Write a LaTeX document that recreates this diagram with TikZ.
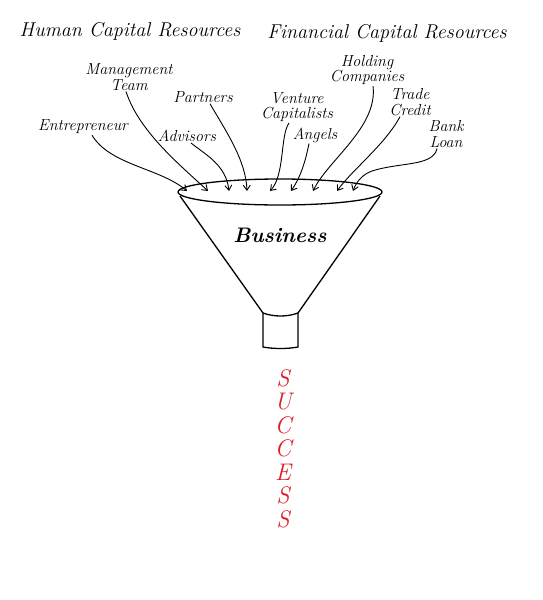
\documentclass[tikz,border=0pt]{standalone}
\usetikzlibrary{arrows.meta}
\definecolor{succred}{RGB}{222,30,40}
\begin{document}
\begin{tikzpicture}[x=1pt,y=-1pt,
  hdr/.style={font=\fontsize{20}{22}\selectfont\itshape, inner sep=0pt},
  lbl/.style={font=\fontsize{16}{15.5}\selectfont\itshape, align=center, inner sep=0pt},
  feed/.style={line width=0.9pt, -{Straight Barb[length=5pt,width=7pt]}},
  funnel/.style={line width=1.3pt},
  letter/.style={font=\fontsize{24}{24}\selectfont\itshape, text=succred, inner sep=0pt}]
\useasboundingbox[fill=white] (0,0) rectangle (543,600);

% headers
\node[hdr] (hcr) at (130,31) {Human Capital Resources};
\node[hdr] (fcr) at (387,33) {Financial Capital Resources};

% labels
\node[lbl] (ent) at (83,127) {Entrepreneur};
\node[lbl] (mgt) at (129,77) {Management\\Team};
\node[lbl] (adv) at (187,136) {Advisors};
\node[lbl] (par) at (203,97) {Partners};
\node[lbl] (vc)  at (297,107) {Venture\\Capitalists};
\node[lbl] (ang) at (315,135) {Angels};
\node[lbl] (hol) at (367,70) {Holding\\Companies};
\node[lbl] (tra) at (410,102) {Trade\\Credit};
\node[lbl] (ban) at (446,134) {Bank\\Loan};

% funnel
\draw[funnel] (280,192) ellipse [x radius=102, y radius=13];
\draw[funnel] (180,196) -- (263,313);
\draw[funnel] (380,196) -- (298,313);
\draw[funnel] (263,313) .. controls (274,317) and (287,317) .. (298,313);
\draw[funnel] (263,313) -- (263,347) .. controls (274,349) and (287,349) .. (298,347) -- (298,313);
\node[font=\fontsize{21}{22}\selectfont\bfseries\itshape, inner sep=0pt] (bus) at (280,235) {Business};

% arrow ends
\coordinate (t1) at (187,191);
\coordinate (t2) at (208,191);
\coordinate (t3) at (229,191);
\coordinate (t4) at (247,191);
\coordinate (t5) at (270,191);
\coordinate (t6) at (291,191);
\coordinate (t7) at (313,191);
\coordinate (t8) at (337,191);
\coordinate (t9) at (353,191);

\draw[feed] ([xshift=9pt,yshift=-1pt]ent.south) .. controls +(18,30) and (160,168) .. (t1);
\draw[feed] ([xshift=-3pt,yshift=-1pt]mgt.south) .. controls +(13,40) and (180,165) .. (t2);
\draw[feed] ([xshift=4pt,yshift=-1pt]adv.south) .. controls +(15,12) and (226,165) .. (t3);
\draw[feed] ([xshift=7pt,yshift=-1pt]par.south) .. controls +(15,26) and (246,160) .. (t4);
\draw[feed] ([xshift=-8pt,yshift=-1pt]vc.south) .. controls +(-9,13) and (285,175) .. (t5);
\draw[feed] ([xshift=-6pt,yshift=-1pt]ang.south) .. controls +(-4,20) and (300,178) .. (t6);
\draw[feed] ([xshift=6pt,yshift=-1pt]hol.south) .. controls +(5,41) and (328,160) .. (t7);
\draw[feed] ([xshift=-10pt,yshift=-1pt]tra.south) .. controls +(-15,28) and (352,170) .. (t8);
\draw[feed] ([xshift=-9pt,yshift=-1pt]ban.south) .. controls +(-4,18) and (400,162) .. (372,171) .. controls (361,175) and (356,183) .. (t9);

% SUCCESS
\node[letter] (s1) at (283,378) {S};
\node[letter] (s2) at (283,402) {U};
\node[letter] (s3) at (283,425) {C};
\node[letter] (s4) at (283,448) {C};
\node[letter] (s5) at (283,472) {E};
\node[letter] (s6) at (283,495) {S};
\node[letter] (s7) at (283,519) {S};
\end{tikzpicture}
\end{document}
